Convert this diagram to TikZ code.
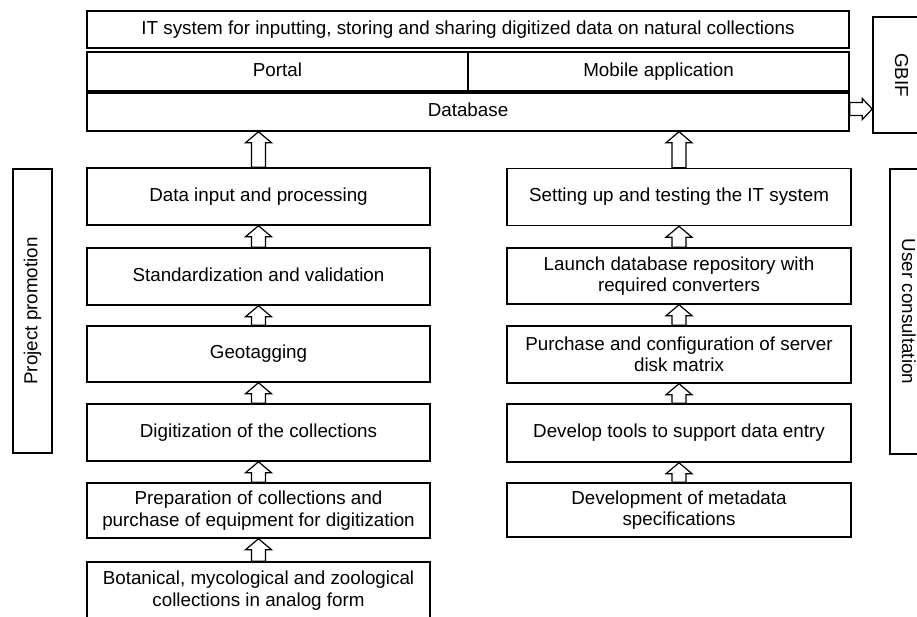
\documentclass[tikz,border=0pt]{standalone}
\usepackage{fontspec}
\setmainfont{Liberation Sans}
\usetikzlibrary{calc}
\newcommand{\hollowup}[2]{%
  \draw[harrow] let \p1=(#1), \p2=(#2) in
    (\x1-7pt,\y1) -- (\x1-7pt,\y2-11pt) -- (\x1-13pt,\y2-11pt) -- (\x1,\y2)
    -- (\x1+13pt,\y2-11pt) -- (\x1+7pt,\y2-11pt) -- (\x1+7pt,\y1) -- cycle;}
\begin{document}
\begin{tikzpicture}[x=1pt,y=-1pt,
  box/.style={draw, line width=1.5pt, rectangle, inner sep=0pt, align=center,
    font=\fontsize{18.8}{21.5}\selectfont},
  sl/.style={text height=13.6pt, text depth=4pt},
  lbox/.style={box, minimum width=343pt},
  rbox/.style={box, minimum width=344pt},
  harrow/.style={draw, line width=1.2pt, fill=white, line join=miter}]
\clip (0,0) rectangle (917,616);
\fill[white] (0,0) rectangle (917,616);

% top block
\node[box, sl, minimum width=762pt, minimum height=37pt] (itsys) at (468,29.5)
  {IT system for inputting, storing and sharing digitized data on natural collections};
\node[box, sl, minimum width=381pt, minimum height=39pt] (portal) at (277.5,71.5) {Portal};
\node[box, sl, minimum width=381pt, minimum height=39pt] (mobile) at (658.5,71.5) {Mobile application};
\node[box, sl, minimum width=762pt, minimum height=38pt] (db) at (468,112) {Database};

% side boxes
\node[box, sl, rotate=-90, minimum width=116pt, minimum height=54pt] (gbif) at (900,75) {GBIF};
\node[box, sl, rotate=90, minimum width=284pt, minimum height=39pt] (promo) at (32.5,311) {Project promotion};
\node[box, sl, rotate=-90, minimum width=285pt, minimum height=34pt] (cons) at (907,311.5) {User consultation};

% left column
\node[lbox, sl, minimum height=57pt] (dip) at (258.5,196.5) {Data input and processing};
\node[lbox, sl, minimum height=57pt] (std) at (258.5,276.5) {Standardization and validation};
\node[lbox, sl, minimum height=56pt] (geo) at (258.5,354) {Geotagging};
\node[lbox, sl, minimum height=57pt] (dig) at (258.5,432.5) {Digitization of the collections};
\node[lbox, minimum height=55pt] (prep) at (258.5,510.5) {Preparation of collections and\\purchase of equipment for digitization};
\node[lbox, minimum height=57pt] (bot) at (258.5,590.5) {Botanical, mycological and zoological\\collections in analog form};

% right column
\node[rbox, sl, minimum height=57pt] (set) at (679,197) {Setting up and testing the IT system};
\node[rbox, minimum height=56pt] (launch) at (679,276) {Launch database repository with\\required converters};
\node[rbox, minimum height=57pt] (purch) at (679,354.5) {Purchase and configuration of server\\disk matrix};
\node[rbox, sl, minimum height=58pt] (tools) at (679,433) {Develop tools to support data entry};
\node[rbox, minimum height=54pt] (meta) at (679,510) {Development of metadata\\specifications};

% arrows left
\hollowup{dip.north}{dip.north |- db.south}
\hollowup{std.north}{dip.south}
\hollowup{geo.north}{std.south}
\hollowup{dig.north}{geo.south}
\hollowup{prep.north}{dig.south}
\hollowup{bot.north}{prep.south}
% arrows right
\hollowup{set.north}{set.north |- db.south}
\hollowup{launch.north}{set.south}
\hollowup{purch.north}{launch.south}
\hollowup{tools.north}{purch.south}
\hollowup{meta.north}{tools.south}

% database to GBIF
\draw[harrow] let \p1=($(db.east)+(0,-3)$), \p2=(gbif.south) in
  (\x1,\y1+6.5pt) -- (\x2-10pt,\y1+6.5pt) -- (\x2-10pt,\y1+10.5pt) -- (\x2,\y1)
  -- (\x2-10pt,\y1-10.5pt) -- (\x2-10pt,\y1-6.5pt) -- (\x1,\y1-6.5pt) -- cycle;
\end{tikzpicture}
\end{document}
